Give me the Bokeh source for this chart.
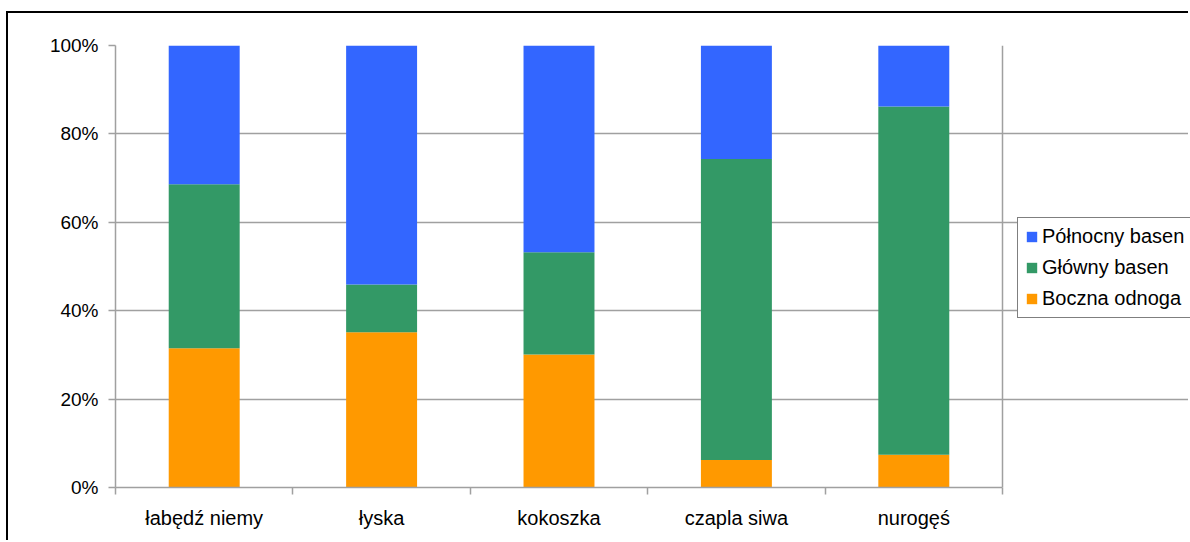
from bokeh.plotting import figure
from bokeh.models import Range1d, FixedTicker, Legend, LegendItem, ColumnDataSource, Span
from bokeh.embed import file_html
from bokeh.resources import INLINE

# ---- data ----
categories = ["łabędź niemy", "łyska", "kokoszka", "czapla siwa", "nurogęś"]
series_names = ["Boczna odnoga", "Główny basen", "Północny basen"]
boczna = [31.5, 35.1, 30.1, 6.2, 7.4]
glowny = [37.1, 10.8, 23.1, 68.1, 78.8]
polnocny = [31.4, 54.1, 46.8, 25.7, 13.8]
colors = ["#FF9900", "#339966", "#3366FF"]
y_ticks = [0, 20, 40, 60, 80, 100]
y_tick_labels = ["0%", "20%", "40%", "60%", "80%", "100%"]

FONT = "Liberation Sans"
GRID = "#a0a0a0"

n = len(categories)
centers = [i + 0.5 for i in range(n)]
bounds = list(range(n + 1))

# layout: plot area 887 px wide for the 5 categories; frame extends to the
# canvas edge so that the legend (outside the plot area) is not clipped
W, H = 1182, 529
LEFT, TOP, BOTTOM = 107, 32, 55
AREA_W = 887
frame_w = W - LEFT
x_end = n * frame_w / AREA_W

src = ColumnDataSource(dict(x=centers, b=boczna, g=glowny, n=polnocny))

p = figure(width=W, height=H, output_backend="svg", toolbar_location=None,
           x_range=Range1d(0, x_end), y_range=Range1d(0, 100),
           min_border_left=LEFT, min_border_top=TOP, min_border_right=0,
           min_border_bottom=BOTTOM)
p.margin = (11, 0, 0, 6)
p.styles = {"border-top": "2px solid black", "border-left": "2px solid black"}

rs = p.vbar_stack(["b", "g", "n"], x="x", width=0.4, source=src,
                  color=colors, line_color=None)

p.outline_line_color = None
p.xgrid.visible = False
p.ygrid.grid_line_color = GRID
p.ygrid.grid_line_width = 1.5
p.ygrid.bounds = (0, n)
p.add_layout(Span(location=n, dimension="height", line_color=GRID, line_width=1.5))

# y axis
p.yaxis.ticker = FixedTicker(ticks=y_ticks)
p.yaxis.major_label_overrides = {t: l for t, l in zip(y_ticks, y_tick_labels)}
p.yaxis.major_tick_out = 7
p.yaxis.major_tick_in = 0
p.yaxis.minor_tick_line_color = None
p.yaxis.axis_line_color = GRID
p.yaxis.axis_line_width = 1.5
p.yaxis.major_tick_line_color = GRID
p.yaxis.major_tick_line_width = 1.5
p.yaxis.major_label_standoff = 10
p.yaxis.major_label_text_font = FONT
p.yaxis.major_label_text_font_size = "19px"
p.yaxis.major_label_text_color = "black"

# x axis: labels at centers, ticks at boundaries
p.xaxis.bounds = (0, n)
p.xaxis.ticker = FixedTicker(ticks=centers, minor_ticks=bounds)
p.xaxis.major_label_overrides = {c: l for c, l in zip(centers, categories)}
p.xaxis.major_tick_out = 0
p.xaxis.major_tick_in = 0
p.xaxis.minor_tick_out = 7
p.xaxis.minor_tick_in = 0
p.xaxis.minor_tick_line_color = GRID
p.xaxis.minor_tick_line_width = 1.5
p.xaxis.axis_line_color = GRID
p.xaxis.axis_line_width = 1.5
p.xaxis.major_label_standoff = 12
p.xaxis.major_label_text_font = FONT
p.xaxis.major_label_text_font_size = "20px"
p.xaxis.major_label_text_color = "black"

items = [LegendItem(label=series_names[i], renderers=[rs[i]]) for i in (2, 1, 0)]
legend = Legend(items=items, location=(902, 169), border_line_color="black",
                border_line_width=1, background_fill_color="white",
                background_fill_alpha=1, glyph_width=13, glyph_height=13,
                label_standoff=4, padding=7, spacing=8, label_height=21,
                margin=0, label_text_font=FONT, label_text_font_size="20px",
                label_text_color="black")
p.add_layout(legend, "center")

open("out.html", "w").write(file_html(p, INLINE))
